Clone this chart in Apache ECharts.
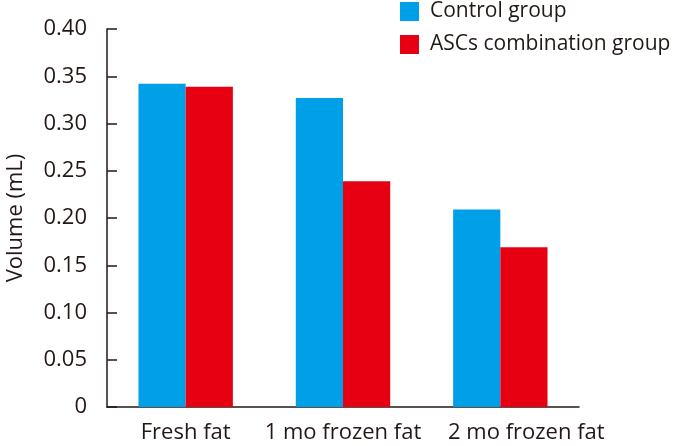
<!DOCTYPE html>
<html><head><meta charset="utf-8">
<script src="https://cdn.jsdelivr.net/npm/echarts@6/dist/echarts.min.js"></script>
<style>html,body{margin:0;padding:0;background:#fff}#c{width:679px;height:446px}</style>
</head><body><div id="c"></div>
<script>
const categories = ['Fresh fat', '1 mo frozen fat', '2 mo frozen fat'];
const controlValues = [0.342, 0.327, 0.209];
const ascsValues = [0.339, 0.239, 0.169];
const yTicks = [0, 0.05, 0.10, 0.15, 0.20, 0.25, 0.30, 0.35, 0.40];
const seriesNames = ['Control group', 'ASCs combination group'];

const FONT = 'Open Sans';
const TXT = '#231815';
const chart = echarts.init(document.getElementById('c'));
chart.setOption({
  animation: false,
  legend: {
    orient: 'vertical', left: 400, top: 1, padding: 0,
    itemWidth: 19, itemHeight: 19, itemGap: 12,
    icon: 'rect',
    textStyle: { fontFamily: FONT, fontSize: 21, color: TXT, padding: [0, 0, 0, 6] },
    data: seriesNames
  },
  grid: { left: 107, right: 100, top: 29, bottom: 39, containLabel: false, outerBoundsMode: 'none' },
  xAxis: {
    type: 'category', data: categories,
    axisLine: { lineStyle: { color: TXT, width: 1.5 } },
    axisTick: { show: false },
    axisLabel: {
      fontFamily: FONT, fontSize: 22, color: TXT, margin: 15, interval: 0, hideOverlap: false,
      formatter: (v, i) => i === categories.length - 1 ? '{s|' + v + '}' : v,
      rich: { s: { fontFamily: FONT, fontSize: 22, color: TXT, padding: [0, 0, 0, 52] } }
    }
  },
  yAxis: {
    type: 'value', min: 0, max: 0.4, interval: 0.05,
    name: 'Volume (mL)', nameLocation: 'middle', nameGap: 80,
    nameTextStyle: { fontFamily: FONT, fontSize: 22, color: TXT },
    axisLine: { show: true, lineStyle: { color: TXT, width: 1.5 } },
    axisTick: { show: true, inside: true, length: 10, lineStyle: { color: TXT, width: 1.5 } },
    splitLine: { show: false },
    axisLabel: {
      fontFamily: FONT, fontSize: 22, color: TXT, margin: 20,
      formatter: v => { const t = yTicks.find(x => Math.abs(x - v) < 1e-9); return t === 0 ? '0' : t.toFixed(2); }
    }
  },
  series: [
    { name: seriesNames[0], type: 'bar', data: controlValues, barGap: '0%', barCategoryGap: '40%', itemStyle: { color: '#00A0E9' } },
    { name: seriesNames[1], type: 'bar', data: ascsValues, itemStyle: { color: '#E60012' } }
  ]
});
</script></body></html>
